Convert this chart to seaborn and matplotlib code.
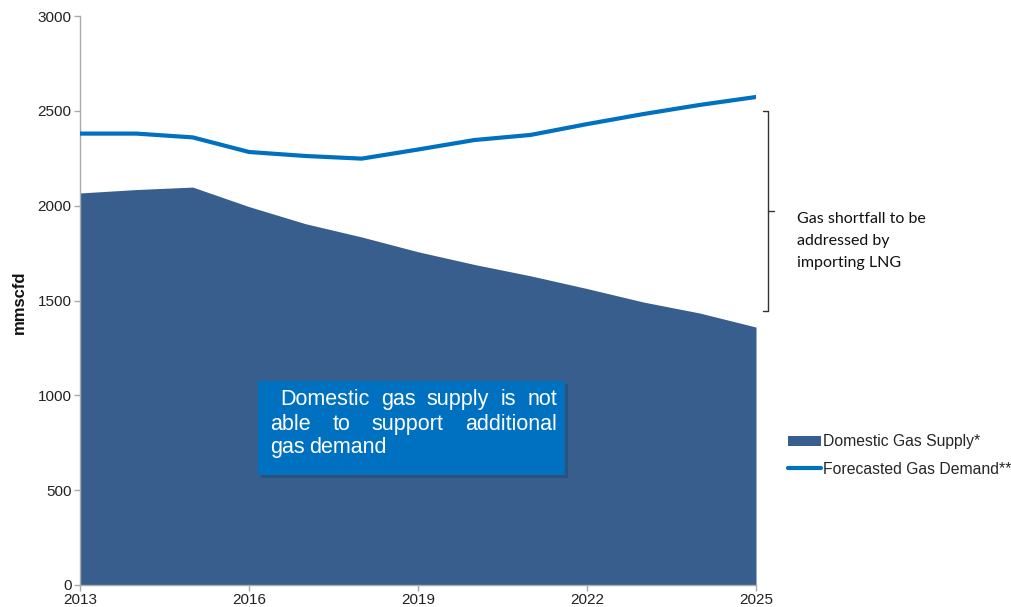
import matplotlib
matplotlib.use("Agg")
import matplotlib.pyplot as plt
import seaborn as sns
import pandas as pd
from matplotlib.patches import Rectangle
from matplotlib.lines import Line2D
from matplotlib.patches import Patch

# Data (mmscfd)
years = [2013, 2014, 2015, 2016, 2017, 2018, 2019, 2020, 2021, 2022, 2023, 2024, 2025]
domestic_supply = [2067, 2085, 2098, 1995, 1905, 1835, 1757, 1690, 1630, 1563, 1492, 1434, 1360]
forecast_demand = [2380, 2380, 2360, 2283, 2262, 2248, 2296, 2346, 2373, 2430, 2483, 2531, 2573]
x_ticks = [2013, 2016, 2019, 2022, 2025]
y_ticks = [0, 500, 1000, 1500, 2000, 2500, 3000]

supply_label = "Domestic Gas Supply*"
demand_label = "Forecasted Gas Demand**"
box_lines = [["Domestic", "gas", "supply", "is", "not"],
             ["able", "to", "support", "additional"],
             ["gas", "demand"]]
shortfall_text = "Gas shortfall to be\naddressed by\nimporting LNG"

SUPPLY_COLOR = "#375E8D"
DEMAND_COLOR = "#0070C0"

sns.set_style("ticks")
plt.rcParams["font.family"] = ["Liberation Sans", "DejaVu Sans"]

df = pd.DataFrame({"year": years, "supply": domestic_supply, "demand": forecast_demand})

W, H = 1012, 607
fig = plt.figure(figsize=(W / 100, H / 100), dpi=100)
ax = fig.add_axes([80 / W, 1 - 585 / H, (756 - 80) / W, (585 - 16) / H])

ax.fill_between(df["year"], 0, df["supply"], color=SUPPLY_COLOR, linewidth=0, zorder=1)
sns.lineplot(data=df, x="year", y="demand", ax=ax, color=DEMAND_COLOR, linewidth=3, zorder=3)

ax.set_xlim(2013, 2025)
ax.set_ylim(0, 3000)
ax.set_xticks(x_ticks)
ax.set_yticks(y_ticks)
ax.tick_params(axis="both", colors="#222222", labelsize=11, length=4, width=1, color="#AAAAAA", pad=2)
ax.set_xlabel("")
ax.set_ylabel("")
for side in ["top", "right"]:
    ax.spines[side].set_visible(False)
for side in ["left", "bottom"]:
    ax.spines[side].set_color("#AAAAAA")
    ax.spines[side].set_linewidth(1)


def fx(px):
    return px / W


def fy(py):
    return 1 - py / H


# Axis title
fig.text(fx(19), fy(302), "mmscfd", rotation=90, fontsize=12, fontweight="bold",
         ha="center", va="center", color="#111111")

# Callout box on the supply area
fig.patches.append(Rectangle((fx(261), fy(478)), fx(565) - fx(258), fy(381) - fy(475),
                             transform=fig.transFigure, facecolor="#2B4C73", edgecolor="none",
                             zorder=4, alpha=0.7))
fig.patches.append(Rectangle((fx(258), fy(475)), fx(565) - fx(258), fy(381) - fy(475),
                             transform=fig.transFigure, facecolor=DEMAND_COLOR, edgecolor="none",
                             zorder=5))

fig.canvas.draw()
renderer = fig.canvas.get_renderer()


def justified_line(words, left, right, base_y, justify=True):
    texts = []
    for w in words:
        t = fig.text(fx(left), fy(base_y), w, color="white", fontsize=15.5,
                     va="baseline", ha="left", zorder=6)
        texts.append(t)
    widths = [t.get_window_extent(renderer).width for t in texts]
    if justify and len(words) > 1:
        gap = (right - left - sum(widths)) / (len(words) - 1)
    else:
        gap = 5
    x = left
    for t, w in zip(texts, widths):
        t.set_x(fx(x))
        x += w + gap


justified_line(box_lines[0], 280, 557, 405)
justified_line(box_lines[1], 270, 557, 430)
justified_line(box_lines[2], 270, 557, 453, justify=False)

# Bracket marking the shortfall
bx, btop, bbot = 768, 111, 311
fig.add_artist(Line2D([fx(bx - 5), fx(bx), fx(bx), fx(bx - 5)],
                      [fy(btop), fy(btop), fy(bbot), fy(bbot)],
                      color="#333333", linewidth=1, transform=fig.transFigure))
fig.add_artist(Line2D([fx(bx), fx(bx + 6)], [fy(211), fy(211)],
                      color="#333333", linewidth=1, transform=fig.transFigure))
fig.text(fx(797), fy(212), shortfall_text, fontsize=11.5, family=["Lato", "DejaVu Sans"],
         color="#111111", va="top", ha="left", linespacing=1.72)

# Legend
handles = [Patch(facecolor=SUPPLY_COLOR, edgecolor="none"),
           Line2D([0], [0], color=DEMAND_COLOR, linewidth=3)]
fig.legend(handles, [supply_label, demand_label], loc="upper left",
           bbox_to_anchor=(fx(785), fy(431)), frameon=False, fontsize=11.3,
           handlelength=2.1, handleheight=0.6, handletextpad=0.15, labelspacing=0.8,
           borderaxespad=0, borderpad=0.2)

fig.savefig("out.png", dpi=100)
